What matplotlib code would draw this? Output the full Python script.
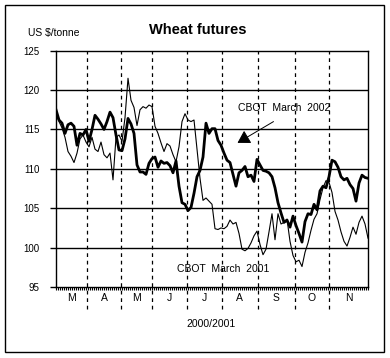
import matplotlib
matplotlib.use('Agg')
import matplotlib.pyplot as plt
import numpy as np
from matplotlib.ticker import MultipleLocator
from matplotlib.patches import Rectangle

# trading-day index (approx. every 3 px of the original chart)
mar2002 = [117.5, 116.2, 115.8, 114.5, 115.6, 115.8, 115.4, 113.0, 114.5, 114.3,
           115.0, 113.5, 115.0, 116.8, 116.3, 115.7, 115.0, 116.0, 117.2, 116.5,
           114.3, 112.4, 112.3, 113.8, 116.4, 115.7, 114.5, 110.5, 109.6, 109.6,
           109.3, 110.7, 111.3, 111.5, 110.2, 111.0, 110.7, 110.8, 110.4, 109.5,
           111.0, 107.8, 105.7, 105.5, 104.7, 105.1, 106.9, 109.0, 109.8, 111.5,
           115.8, 114.5, 115.1, 115.1, 113.6, 113.0, 112.0, 111.1, 110.8, 109.3,
           107.8, 109.5, 109.8, 110.3, 109.0, 109.2, 108.4, 111.2, 110.5, 109.8,
           109.7, 109.5, 109.0, 107.6, 105.7, 104.4, 103.2, 103.5, 102.6, 104.0,
           102.8, 101.8, 100.7, 103.3, 104.3, 104.2, 105.5, 104.8, 107.2, 107.8,
           107.6, 109.0, 111.1, 110.9, 110.2, 109.0, 108.6, 108.8, 108.0, 107.5,
           105.9, 108.2, 109.2, 108.9, 108.8]
mar2001 = [117.0, 116.0, 115.2, 114.0, 112.2, 111.6, 110.8, 112.0, 113.8, 114.3,
           113.4, 112.8, 114.0, 112.5, 112.2, 113.4, 111.8, 111.4, 112.0, 108.6,
           114.0, 114.3, 113.5, 116.5, 121.5, 118.7, 117.8, 115.5, 117.5, 117.9,
           117.7, 118.1, 117.9, 115.4, 114.5, 113.3, 112.2, 113.2, 112.9, 111.8,
           110.9, 112.8, 116.0, 117.0, 116.2, 116.0, 116.2, 112.5, 108.8, 106.0,
           106.3, 105.9, 105.5, 102.4, 102.3, 102.5, 102.4, 102.7, 103.5, 103.0,
           103.2, 101.8, 99.8, 99.6, 99.9, 100.6, 101.5, 102.1, 100.4, 99.1,
           99.8, 102.0, 104.3, 101.0, 104.3, 103.0, 103.2, 103.6, 100.8, 99.0,
           98.2, 98.4, 97.6, 99.4, 100.6, 102.2, 103.6, 104.3, 106.1, 107.6,
           108.5, 108.3, 107.0, 104.6, 103.5, 102.0, 100.8, 100.2, 101.3, 102.6,
           101.7, 103.2, 104.0, 103.0, 101.2]
month_edges = [10.3, 21.7, 32.0, 43.7, 55.3, 67.3, 79.7, 91.0]
month_labels = ['M', 'A', 'M', 'J', 'J', 'A', 'S', 'O', 'N']

plt.rcParams['font.family'] = ['Liberation Sans', 'DejaVu Sans']

fig = plt.figure(figsize=(3.9, 3.58), dpi=100)
ax = fig.add_axes([0.1436, 0.1983, 0.8, 0.6601])

x = np.arange(len(mar2002))
ax.plot(x, mar2001, color='black', lw=0.8)
ax.plot(x, mar2002, color='black', lw=2.0)

xmax = 104
ax.set_xlim(0, xmax)
ax.set_ylim(95, 125)
ax.set_yticks(np.arange(95, 126, 5))
ax.set_yticklabels([str(v) for v in range(95, 126, 5)], fontsize=7)
for v in range(100, 125, 5):
    ax.axhline(v, color='black', lw=1.0)
ax.tick_params(axis='y', length=4, width=1, pad=8)
ax.set_xticks([])
ax.xaxis.set_minor_locator(MultipleLocator(2 / 3))
ax.tick_params(axis='x', which='minor', length=2, width=0.8, direction='out')
for s in ax.spines.values():
    s.set_linewidth(1.0)

# month separators, running below the axis
for e in month_edges:
    ax.plot([e, e], [92.2, 125], color='black', lw=0.9, ls=(0, (3, 3)), clip_on=False)

bounds = [0] + month_edges + [xmax]
for i, m in enumerate(month_labels):
    ax.text((bounds[i] + bounds[i + 1]) / 2, 93.6, m, ha='center', va='center', fontsize=7.5)

ax.text(51.7, 90.3, '2000/2001', ha='center', va='center', fontsize=7.5)

ax.text(76, 117.7, 'CBOT  March  2002', ha='center', va='center', fontsize=7.5)
ax.text(55.7, 97.3, 'CBOT  March  2001', ha='center', va='center', fontsize=7.5)
ax.annotate('', xy=(60.5, 113.3), xytext=(72.5, 116.0),
            arrowprops=dict(arrowstyle='-|>,head_length=0.75,head_width=0.45', color='black', lw=0.7,
                            shrinkA=0, shrinkB=0))

fig.text(198 / 390, 1 - 30 / 358, 'Wheat futures', ha='center', va='center', fontsize=10.5, fontweight='bold')
fig.text(28 / 390, 1 - 33 / 358, 'US $/tonne', ha='left', va='center', fontsize=7.5)

fig.patches.append(Rectangle((5 / 390, 6 / 358), 379 / 390, 347 / 358, transform=fig.transFigure,
                             fill=False, edgecolor='black', lw=1.0))

fig.savefig('out.png', dpi=100)
